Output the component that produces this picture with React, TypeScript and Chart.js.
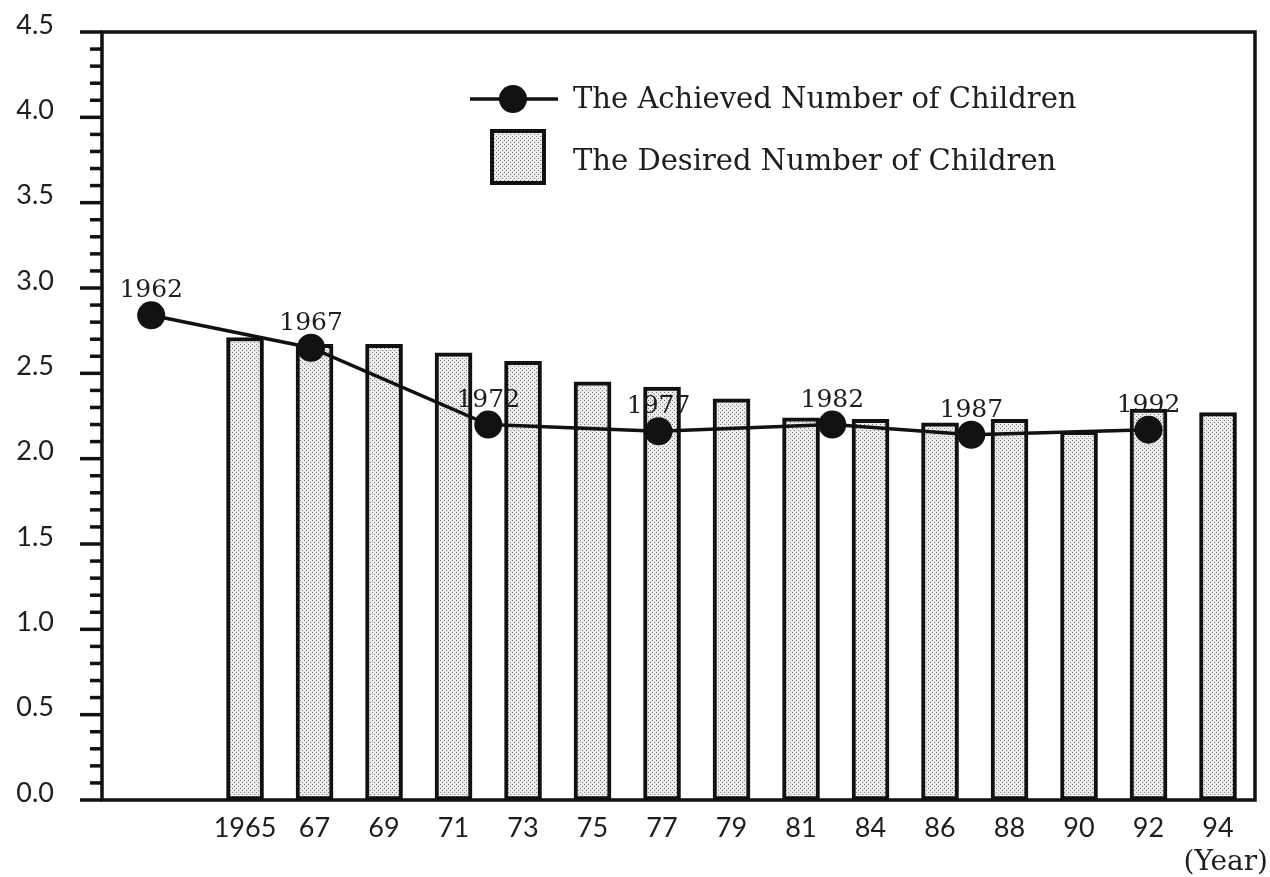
import React, { useEffect, useRef } from "react";
import { Chart, registerables } from "chart.js";

Chart.register(...registerables);

// ---- data ----
const barLabels = ["1965", "67", "69", "71", "73", "75", "77", "79", "81", "84", "86", "88", "90", "92", "94"];
const desired = [2.71, 2.67, 2.67, 2.62, 2.57, 2.45, 2.42, 2.35, 2.24, 2.23, 2.21, 2.23, 2.16, 2.29, 2.27];
const achievedYears = ["1962", "1967", "1972", "1977", "1982", "1987", "1992"];
// position of each survey point along the category (bar slot) axis
const achievedSlot = [-1.35, 0.95, 3.5, 5.95, 8.45, 10.45, 13];
const achieved = [2.84, 2.65, 2.2, 2.16, 2.2, 2.14, 2.17];
const yMax = 4.5;
const yMajorStep = 0.5;
const yMinorStep = 0.1;
const legendLine = "The Achieved Number of Children";
const legendBar = "The Desired Number of Children";
const xUnit = "(Year)";

const INK = "#111";
const TEXT = "#1e1e1e";
const SERIF = "'DejaVu Serif', serif";
const SANS = "Lato, 'Open Sans', sans-serif";

function makePattern(ctx: CanvasRenderingContext2D) {
  const c = document.createElement("canvas");
  c.width = 4;
  c.height = 4;
  const g = c.getContext("2d")!;
  g.fillStyle = "#ececec";
  g.fillRect(0, 0, 4, 4);
  g.fillStyle = "#7a7a7a";
  g.fillRect(0, 0, 1, 1);
  g.fillRect(2, 2, 1, 1);
  return ctx.createPattern(c, "repeat")!;
}

export default function App() {
  const ref = useRef<HTMLCanvasElement>(null);

  useEffect(() => {
    const canvas = ref.current!;
    const ctx0 = canvas.getContext("2d")!;
    const pattern = makePattern(ctx0);

    const decor = {
      id: "decor",
      afterDraw(chart: any) {
        const { ctx, chartArea: a, scales } = chart;
        const ys = scales.y;
        ctx.save();
        ctx.strokeStyle = INK;
        ctx.lineWidth = 3.5;
        ctx.lineCap = "butt";
        // frame
        ctx.beginPath();
        ctx.moveTo(a.left, a.top);
        ctx.lineTo(a.right, a.top);
        ctx.lineTo(a.right, a.bottom);
        ctx.lineTo(a.left, a.bottom);
        ctx.closePath();
        ctx.stroke();
        // ticks (major + minor) through the y scale
        const n = Math.round(yMax / yMinorStep);
        for (let i = 0; i <= n; i++) {
          const v = i * yMinorStep;
          const y = ys.getPixelForValue(v);
          const major = i % Math.round(yMajorStep / yMinorStep) === 0;
          ctx.beginPath();
          ctx.moveTo(a.left - (major ? 22 : 12), y);
          ctx.lineTo(a.left, y);
          ctx.stroke();
        }
        // point year labels
        const meta = chart.getDatasetMeta(0);
        ctx.fillStyle = TEXT;
        ctx.font = `25px ${SERIF}`;
        ctx.textAlign = "center";
        ctx.textBaseline = "alphabetic";
        meta.data.forEach((pt: any, i: number) => {
          ctx.fillText(achievedYears[i], pt.x, pt.y - 18);
        });
        // legend
        const lx = 470, ly = 99;
        ctx.lineWidth = 3.5;
        ctx.beginPath();
        ctx.moveTo(lx, ly);
        ctx.lineTo(lx + 88, ly);
        ctx.stroke();
        ctx.beginPath();
        ctx.arc(lx + 43, ly, 14, 0, Math.PI * 2);
        ctx.fillStyle = INK;
        ctx.fill();
        ctx.fillStyle = pattern;
        ctx.fillRect(491, 130, 54, 54);
        ctx.lineWidth = 4;
        ctx.strokeRect(492, 131, 52, 52);
        ctx.fillStyle = TEXT;
        ctx.font = `29px ${SERIF}`;
        ctx.textAlign = "left";
        ctx.textBaseline = "middle";
        ctx.fillText(legendLine, 573, ly + 1);
        ctx.fillText(legendBar, 573, 162);
        // unit label
        ctx.font = `28px ${SERIF}`;
        ctx.textAlign = "right";
        ctx.textBaseline = "alphabetic";
        ctx.fillText(xUnit, 1268, 870);
        ctx.restore();
      },
    };

    const chart = new Chart(canvas, {
      type: "bar",
      data: {
        datasets: [
          {
            type: "line",
            label: legendLine,
            data: achieved.map((v, i) => ({ x: achievedSlot[i], y: v })),
            borderColor: INK,
            borderWidth: 3.5,
            pointRadius: 14,
            pointBackgroundColor: INK,
            pointBorderColor: INK,
            pointBorderWidth: 0,
            tension: 0,
            order: 0,
          } as any,
          {
            type: "bar",
            label: legendBar,
            data: desired.map((v, i) => ({ x: i, y: v })),
            backgroundColor: pattern,
            borderColor: INK,
            borderWidth: 4,
            borderSkipped: false,
            barThickness: 37,
            order: 1,
          } as any,
        ],
      },
      options: {
        animation: false,
        responsive: false,
        devicePixelRatio: 1,
        layout: { padding: { top: 32, right: 15, left: 0, bottom: 0 } },
        plugins: { legend: { display: false }, tooltip: { enabled: false }, title: { display: false } },
        scales: {
          x: {
            type: "linear",
            min: -2.058,
            max: 14.532,
            offset: false,
            grid: { display: false, drawTicks: false },
            border: { display: false },
            afterBuildTicks: (s: any) => {
              s.ticks = barLabels.map((_, i) => ({ value: i }));
            },
            afterFit: (s: any) => {
              s.height = 77;
              s.paddingLeft = 0;
              s.paddingRight = 0;
            },
            ticks: {
              autoSkip: false,
              maxRotation: 0,
              padding: 12,
              color: TEXT,
              font: { family: SANS, size: 27 },
              callback: (v: any) => barLabels[Math.round(Number(v))] ?? "",
            },
          },
          y: {
            type: "linear",
            min: 0,
            max: yMax,
            grid: { display: false, drawTicks: false },
            border: { display: false },
            afterFit: (s: any) => {
              s.width = 102;
              s.paddingTop = 0;
              s.paddingBottom = 0;
            },
            ticks: {
              stepSize: yMajorStep,
              padding: 48,
              labelOffset: -7,
              color: TEXT,
              font: { family: SANS, size: 27 },
              callback: (v: any) => Number(v).toFixed(1),
            },
          },
        },
      } as any,
      plugins: [decor],
    });
    return () => chart.destroy();
  }, []);

  return (
    <div style={{ position: "absolute", left: 0, top: 0, width: 1270, height: 877, background: "#fff" }}>
      <canvas ref={ref} width={1270} height={877} style={{ display: "block" }} />
    </div>
  );
}
